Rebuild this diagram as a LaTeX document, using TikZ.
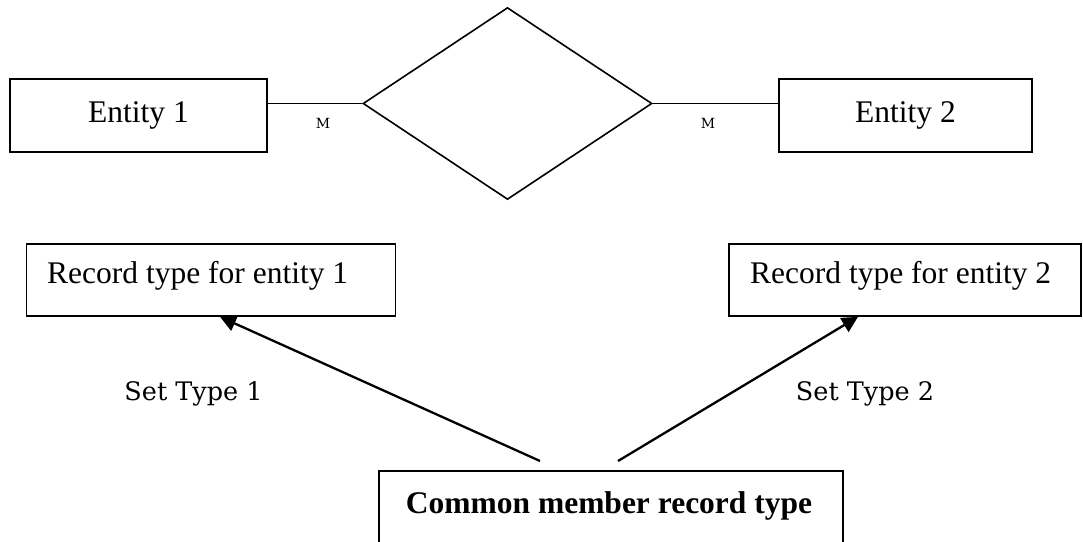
\documentclass[tikz,border=0pt]{standalone}
\usepackage{fontspec}
\setmainfont{Liberation Serif}
\newfontfamily\labelfont{DejaVu Serif}
\usetikzlibrary{shapes.geometric,arrows.meta}

\begin{document}
\begin{tikzpicture}[x=1pt,y=-1pt,
  box/.style={draw,line width=1.6pt,inner sep=0pt},
  bigtext/.style={font=\fontsize{31.5}{36}\selectfont,inner sep=0pt},
  mult/.style={font=\labelfont\fontsize{14}{16}\selectfont,inner sep=0pt},
  setlabel/.style={font=\labelfont\fontsize{25.5}{30}\selectfont,inner sep=0pt,anchor=base},
  link/.style={line width=1.6pt},
  owner/.style={line width=2.3pt,-{Triangle[length=16pt,width=16pt]}}]
  \useasboundingbox (0,0) rectangle (1083,541);

  % E-R part: two entities joined by a many-to-many relationship
  \node[box,minimum width=257pt,minimum height=73pt,bigtext] (e1) at (138.5,115.5) {Entity 1};
  \node[box,minimum width=253pt,minimum height=73pt,bigtext] (e2) at (905.5,115.5) {Entity 2};
  \node[draw,line width=1.6pt,diamond,inner sep=0pt,minimum width=289pt,minimum height=192pt] (rel) at (507.5,103.5) {};
  \draw[link] (rel.west) -- (rel.west -| e1.east);
  \draw[link] (rel.east) -- (rel.east -| e2.west);
  \node[mult] (m1) at (323,123) {M};
  \node[mult] (m2) at (708,123) {M};

  % network model: two owner record types and one member record type
  \node[box,minimum width=369pt,minimum height=72pt] (rec1) at (211,280) {};
  \node[bigtext,anchor=base west] (rec1t) at (47,283) {Record type for entity 1};
  \node[box,minimum width=352pt,minimum height=72pt] (rec2) at (905,280) {};
  \node[bigtext,anchor=base west] (rec2t) at (750,283) {Record type for entity 2};

  \node[box,minimum width=464pt,minimum height=98pt] (mem) at (611,520) {};
  \node[bigtext,font=\bfseries\fontsize{31.5}{36}\selectfont,anchor=base] (memt) at (609,513) {Common member record type};

  \coordinate (s1) at (540,461);
  \coordinate (s2) at (618,461);
  \draw[owner] (s1) -- ([xshift=9pt]rec1.south);
  \draw[owner] (s2) -- ([xshift=-47pt]rec2.south);

  \node[setlabel] (set1) at (193.5,400) {Set Type 1};
  \node[setlabel] (set2) at (865,400) {Set Type 2};
\end{tikzpicture}
\end{document}
